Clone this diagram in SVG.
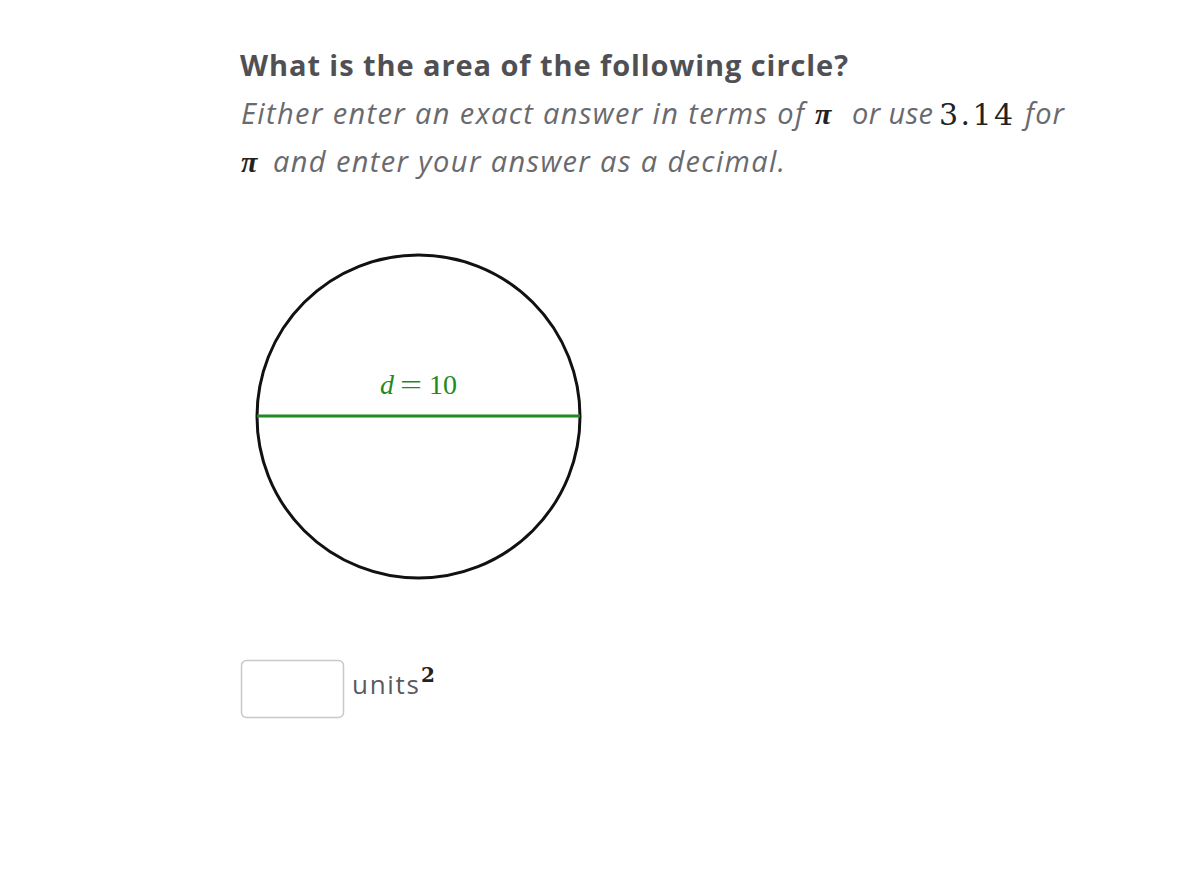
<svg xmlns="http://www.w3.org/2000/svg" width="1200" height="882" viewBox="0 0 1200 882">
<style>
.title{font-family:"Open Sans",Lato,sans-serif;font-weight:bold;font-size:29px;fill:#505054}
.body{font-family:"Open Sans",Lato,sans-serif;font-style:italic;font-size:29px;fill:#6a6a6e}
.math{font-family:"DejaVu Serif","Liberation Serif",serif;fill:#222}
.pi{font-family:"Liberation Serif","DejaVu Serif",serif;font-style:italic;font-weight:bold;font-size:30px;fill:#222}
.lbl{font-family:"Liberation Serif","DejaVu Serif",serif;font-size:28px;fill:#1f8a1f}
.units{font-family:"Open Sans",Lato,sans-serif;font-size:26px;fill:#5a5a5e}
</style>
<rect width="1200" height="882" fill="#fff"/>
<g id="question">
<text class="title" x="240" y="76" textLength="608">What is the area of the following circle?</text>
<text class="body" x="241" y="124" textLength="563">Either enter an exact answer in terms of</text>
<text class="pi" x="815" y="124">π</text>
<text class="body" x="852" y="124" textLength="81">or use</text>
<text class="math" x="939" y="125" font-size="30" textLength="74">3.14</text>
<text class="body" x="1025" y="124" textLength="39">for</text>
<text class="pi" x="241" y="172">π</text>
<text class="body" x="273" y="172" textLength="512">and enter your answer as a decimal.</text>
</g>
<g id="circle">
<circle cx="418.5" cy="416.5" r="161.5" fill="none" stroke="#111" stroke-width="3"/>
</g>
<g id="connectors">
<line x1="257" y1="416" x2="580" y2="416" stroke="#1f8a1f" stroke-width="3"/>
</g>
<g id="label">
<text class="lbl" x="380" y="394" font-size="26" font-style="italic">d</text>
<text class="lbl" x="400" y="394" textLength="22" lengthAdjust="spacingAndGlyphs">=</text>
<text class="lbl" x="429" y="394">10</text>
</g>
<g id="answer">
<rect x="241.5" y="660.5" width="102" height="57" rx="5" fill="#fff" stroke="#c8c8c8" stroke-width="1.5"/>
<text class="units" x="352" y="694" textLength="67">units</text>
<text class="math" x="421" y="682" font-size="20" font-weight="bold">2</text>
</g>
</svg>
